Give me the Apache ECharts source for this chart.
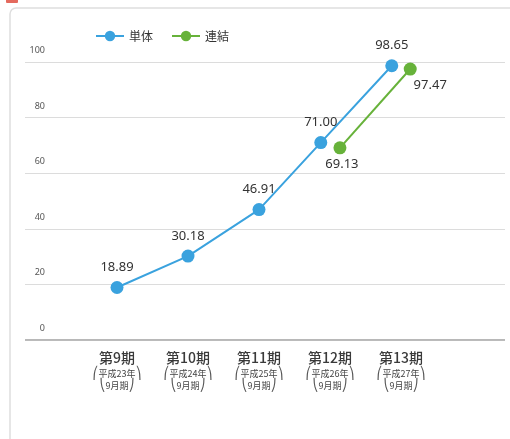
<!DOCTYPE html>
<html><head><meta charset="utf-8">
<script src="https://cdn.jsdelivr.net/npm/echarts@6/dist/echarts.min.js"></script>
<style>html,body{margin:0;padding:0;background:#fff}#c{width:510px;height:439px}</style>
</head><body><div id="c"></div>
<script>
const categories = ['第9期','第10期','第11期','第12期','第13期'];
const subLabels = ['平成23年','平成24年','平成25年','平成26年','平成27年'];
const tanntai = [18.89, 30.18, 46.91, 71.00, 98.65];
const renketsu = [null, null, null, 69.13, 97.47];
const yTicks = [0, 20, 40, 60, 80, 100];
const names = ['単体', '連結'];
// small horizontal shift (in category units) where both series share a period
const shiftA = [0, 0, 0, -0.13, -0.13];
const shiftB = [0, 0, 0, 0.14, 0.13];

const chart = echarts.init(document.getElementById('c'));
const blue = '#3aa2de', green = '#67b23a';
const mk = (vals, shift) => vals.map((v, i) => v == null ? null : [i + shift[i], v]).filter(d => d);
const dataA = mk(tanntai, shiftA).map(d => ({value: d}));
const dataB = mk(renketsu, shiftB).map((d, i) => ({value: d,
  label: i === 1 ? {position: 'bottom', offset: [20, -2]} : {position: 'bottom', offset: [2, -2]}}));

chart.setOption({
  animation: false,
  graphic: [
    {type: 'rect', shape: {x: 10, y: 8, width: 540, height: 460, r: 6}, style: {fill: 'none', stroke: '#dedede', lineWidth: 1.5}, z: -1},
    {type: 'rect', shape: {x: 6, y: -4, width: 12, height: 7, r: 1}, style: {fill: '#e46a5e'}}
  ],
  legend: {
    left: 90, top: 25, itemGap: 18, itemWidth: 28, itemHeight: 13,
    textStyle: {fontSize: 12, color: '#333', fontFamily: 'Noto Sans CJK JP'},
    data: names
  },
  grid: {left: 25, right: 5, top: 62, bottom: 99},
  xAxis: {
    type: 'value', min: -92 / 71, max: -92 / 71 + 480 / 71,
    splitLine: {show: false},
    axisLine: {show: false}, axisTick: {show: false},
    axisLabel: {
      customValues: [0, 1, 2, 3, 4], margin: 8,
      formatter: v => {
        const i = Math.round(v);
        return '{a|' + categories[i] + '}\n{p|⎛}{s|' + subLabels[i] + '}{p|⎞}\n{p|⎝}{s|9月期}{p|⎠}';
      },
      rich: {
        a: {fontSize: 14, color: '#3a3a3a', fontFamily: 'Noto Sans CJK JP', lineHeight: 20, fontWeight: 500},
        s: {fontSize: 9, color: '#444', fontFamily: 'Noto Sans CJK JP', lineHeight: 12},
        p: {fontSize: 12, color: '#555', fontFamily: 'DejaVu Sans', lineHeight: 12}
      }
    }
  },
  yAxis: {
    type: 'value', min: 0, max: 100, interval: 20,
    axisLine: {show: false}, axisTick: {show: false},
    splitLine: {lineStyle: {color: '#dcdcdc', width: 1}},
    axisLabel: {inside: true, margin: 20, align: 'right', verticalAlign: 'bottom', padding: [0, 0, 7, 0],
      fontSize: 9, color: '#555', fontFamily: 'Noto Sans'}
  },
  series: [
    {name: names[0], type: 'line', data: dataA, symbol: 'circle', symbolSize: 13,
      itemStyle: {color: blue}, lineStyle: {color: blue, width: 2},
      label: {show: true, position: 'top', distance: 7, fontSize: 13, color: '#333', fontFamily: 'Noto Sans',
        formatter: p => p.value[1].toFixed(2)}},
    {name: names[1], type: 'line', data: dataB, symbol: 'circle', symbolSize: 13,
      itemStyle: {color: green}, lineStyle: {color: green, width: 2},
      label: {show: true, fontSize: 13, color: '#333', fontFamily: 'Noto Sans',
        formatter: p => p.value[1].toFixed(2)}},
    {type: 'line', data: [[-92 / 71, 0], [-92 / 71 + 480 / 71, 0]], symbol: 'none', silent: true,
      lineStyle: {color: '#a0a0a0', width: 1.5}, z: 1, tooltip: {show: false}}
  ]
});
</script></body></html>
